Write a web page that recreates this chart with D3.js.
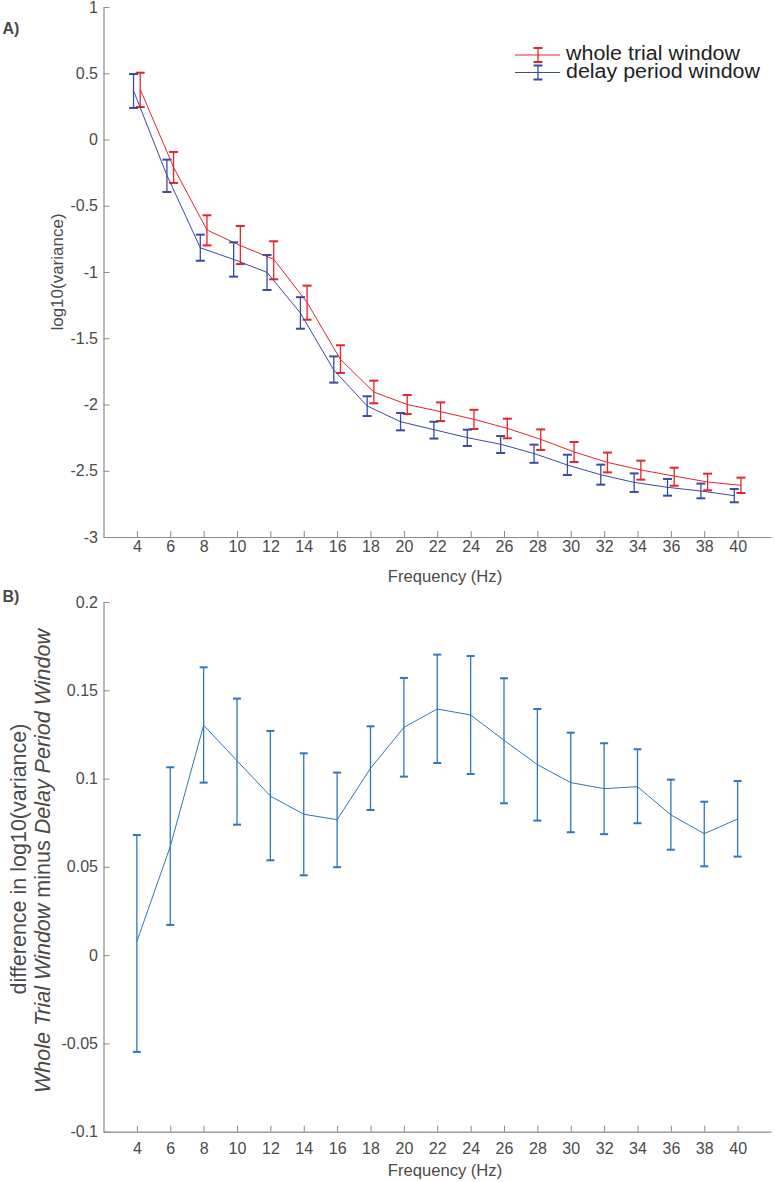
<!DOCTYPE html>
<html>
<head>
<meta charset="utf-8">
<script src="https://cdn.jsdelivr.net/npm/d3@7"></script>
<style>
  html, body { margin: 0; padding: 0; background: #fff; }
  svg { display: block; font-family: "Liberation Sans", Arial, Helvetica, sans-serif; }
</style>
</head>
<body>
<svg id="chart" width="775" height="1182"></svg>
<script>
// ---------- DATA ----------
const frequencies = [4, 6, 8, 10, 12, 14, 16, 18, 20, 22, 24, 26, 28, 30, 32, 34, 36, 38, 40];

// Panel A: whole trial window
const wholeMean  = [0.379, -0.21, -0.683, -0.80, -0.904, -1.23, -1.66, -1.906, -2.0, -2.054, -2.112, -2.18, -2.263, -2.358, -2.437, -2.494, -2.54, -2.585, -2.61];
const wholeUpper = [0.504, -0.094, -0.572, -0.653, -0.768, -1.103, -1.553, -1.82, -1.928, -1.984, -2.04, -2.107, -2.188, -2.283, -2.363, -2.424, -2.477, -2.522, -2.552];
const wholeLower = [0.245, -0.328, -0.799, -0.94, -1.055, -1.36, -1.762, -1.991, -2.072, -2.125, -2.185, -2.255, -2.343, -2.434, -2.512, -2.567, -2.613, -2.648, -2.668];

// Panel A: delay period window
const delayMean  = [0.368, -0.27, -0.817, -0.905, -1.003, -1.31, -1.74, -2.011, -2.13, -2.19, -2.25, -2.30, -2.37, -2.457, -2.53, -2.588, -2.625, -2.653, -2.688];
const delayUpper = [0.494, -0.152, -0.718, -0.776, -0.872, -1.19, -1.637, -1.938, -2.064, -2.13, -2.19, -2.238, -2.303, -2.379, -2.454, -2.52, -2.562, -2.597, -2.638];
const delayLower = [0.238, -0.396, -0.915, -1.035, -1.136, -1.428, -1.835, -2.087, -2.195, -2.257, -2.313, -2.366, -2.44, -2.532, -2.605, -2.66, -2.688, -2.708, -2.738];

// Panel B: difference
const diffMean  = [0.0077, 0.0615, 0.1302, 0.1101, 0.0901, 0.0798, 0.0767, 0.1058, 0.129, 0.1394, 0.136, 0.1217, 0.1079, 0.0977, 0.0943, 0.0954, 0.0794, 0.0688, 0.0771];
const diffUpper = [0.068, 0.1064, 0.163, 0.1453, 0.127, 0.1143, 0.1034, 0.1296, 0.157, 0.1702, 0.1694, 0.1568, 0.1394, 0.126, 0.12, 0.1166, 0.0994, 0.0869, 0.0986];
const diffLower = [-0.0548, 0.0171, 0.0977, 0.0739, 0.0537, 0.0452, 0.0498, 0.0822, 0.1011, 0.1088, 0.1026, 0.086, 0.0762, 0.0696, 0.0685, 0.0747, 0.0597, 0.0503, 0.0558];

// Tick labels
const xTicks  = [4, 6, 8, 10, 12, 14, 16, 18, 20, 22, 24, 26, 28, 30, 32, 34, 36, 38, 40];
const yTicksA = [-3, -2.5, -2, -1.5, -1, -0.5, 0, 0.5, 1];
const yTicksB = [-0.1, -0.05, 0, 0.05, 0.1, 0.15, 0.2];

const seriesNames = ["whole trial window", "delay period window"];

// ---------- STYLE ----------
const AXIS_COLOR = "#8a8a8a";
const TEXT_COLOR = "#4a4a4a";
const RED = "#e3262b";
const NAVY = "#3b4ba3";
const BLUE_B = "#2f76bb";

const svg = d3.select("#chart");

function buildRows(means, uppers, lowers, offset) {
  return frequencies.map((f, i) => ({ f: f + offset, m: means[i], hi: uppers[i], lo: lowers[i] }));
}

function drawAxes(g, x, y, yTicks, opts) {
  const xAxis = d3.axisBottom(x).tickValues(xTicks).tickFormat(d => String(d))
    .tickSizeInner(-6).tickSizeOuter(0).tickPadding(opts.xPad);
  const yAxis = d3.axisLeft(y).tickValues(yTicks).tickFormat(d => String(d))
    .tickSizeInner(-6).tickSizeOuter(0).tickPadding(5.5);

  const gx = g.append("g").attr("transform", `translate(0,${y.range()[0]})`).call(xAxis);
  const gy = g.append("g").attr("transform", `translate(${x.range()[0]},0)`).call(yAxis);
  [gx, gy].forEach(a => {
    a.select(".domain").attr("stroke", AXIS_COLOR).attr("stroke-width", 1.2);
    a.selectAll(".tick line").attr("stroke", AXIS_COLOR).attr("stroke-width", 1);
    a.selectAll(".tick text").attr("fill", TEXT_COLOR).attr("font-size", 16)
      .attr("font-family", "Liberation Sans, Arial, sans-serif");
  });
}

function drawSeries(g, x, y, rows, color, capW, lineW) {
  const line = d3.line().x(d => x(d.f)).y(d => y(d.m));
  g.append("path").datum(rows).attr("fill", "none").attr("stroke", color)
    .attr("stroke-width", lineW).attr("d", line);
  const eb = g.append("g").selectAll("g").data(rows).join("g");
  eb.append("line").attr("x1", d => x(d.f)).attr("x2", d => x(d.f))
    .attr("y1", d => y(d.hi)).attr("y2", d => y(d.lo))
    .attr("stroke", color).attr("stroke-width", 1.3);
  ["hi", "lo"].forEach(k => {
    eb.append("line").attr("x1", d => x(d.f) - capW / 2).attr("x2", d => x(d.f) + capW / 2)
      .attr("y1", d => y(d[k])).attr("y2", d => y(d[k]))
      .attr("stroke", color).attr("stroke-width", 2);
  });
}

// ---------- PANEL A ----------
const xA = d3.scaleLinear().domain([2, 42]).range([103.5, 771]);
const yA = d3.scaleLinear().domain([-3, 1]).range([537, 7]);
const gA = svg.append("g");
drawAxes(gA, xA, yA, yTicksA, { xPad: 3.6 });
drawSeries(gA, xA, yA, buildRows(wholeMean, wholeUpper, wholeLower, 0.2), RED, 9, 1);
drawSeries(gA, xA, yA, buildRows(delayMean, delayUpper, delayLower, -0.2), NAVY, 9, 1);

gA.append("text").attr("x", 445).attr("y", 582).attr("text-anchor", "middle")
  .attr("font-size", 16.6).attr("fill", TEXT_COLOR).text("Frequency (Hz)");
gA.append("text").attr("transform", "translate(62.5,272) rotate(-90)").attr("text-anchor", "middle")
  .attr("font-size", 17).attr("fill", TEXT_COLOR).text("log10(variance)");
gA.append("text").attr("x", 2.5).attr("y", 33.5).attr("font-size", 16).attr("font-weight", "bold")
  .attr("fill", TEXT_COLOR).text("A)");

// Legend
const legend = gA.append("g");
const legColors = [RED, NAVY];
const legY = [55, 72.5];
const legTextLen = [174, 194];
seriesNames.forEach((name, i) => {
  const lg = legend.append("g");
  lg.append("line").attr("x1", 515).attr("x2", 560).attr("y1", legY[i]).attr("y2", legY[i])
    .attr("stroke", legColors[i]).attr("stroke-width", 1);
  lg.append("line").attr("x1", 538).attr("x2", 538).attr("y1", legY[i] - 7).attr("y2", legY[i] + 7)
    .attr("stroke", legColors[i]).attr("stroke-width", 1.3);
  [-7, 7].forEach(o => lg.append("line").attr("x1", 533.5).attr("x2", 542.5)
    .attr("y1", legY[i] + o).attr("y2", legY[i] + o).attr("stroke", legColors[i]).attr("stroke-width", 2));
  lg.append("text").attr("x", 566).attr("y", legY[i] + 5).attr("font-size", 19.5)
    .attr("textLength", legTextLen[i]).attr("lengthAdjust", "spacingAndGlyphs")
    .attr("fill", "#222").text(name);
});

// ---------- PANEL B ----------
const xB = d3.scaleLinear().domain([2, 42]).range([103.5, 771]);
const yB = d3.scaleLinear().domain([-0.1, 0.2]).range([1131.7, 602]);
const gB = svg.append("g");
drawAxes(gB, xB, yB, yTicksB, { xPad: 10.9 });
drawSeries(gB, xB, yB, buildRows(diffMean, diffUpper, diffLower, 0), BLUE_B, 8, 1);

gB.append("text").attr("x", 445).attr("y", 1176).attr("text-anchor", "middle")
  .attr("font-size", 16.6).attr("fill", TEXT_COLOR).text("Frequency (Hz)");
gB.append("text").attr("x", 2.5).attr("y", 601.5).attr("font-size", 16).attr("font-weight", "bold")
  .attr("fill", TEXT_COLOR).text("B)");

const yl1 = gB.append("text").attr("transform", "translate(25.5,859) rotate(-90)")
  .attr("text-anchor", "middle").attr("font-size", 21.5).attr("fill", TEXT_COLOR);
yl1.text("difference in log10(variance)");
const yl2 = gB.append("text").attr("transform", "translate(49.5,861) rotate(-90)")
  .attr("text-anchor", "middle").attr("font-size", 21.5).attr("fill", TEXT_COLOR);
yl2.append("tspan").attr("font-style", "italic").text("Whole Trial Window");
yl2.append("tspan").text(" minus ");
yl2.append("tspan").attr("font-style", "italic").text("Delay Period Window");
</script>
</body>
</html>
